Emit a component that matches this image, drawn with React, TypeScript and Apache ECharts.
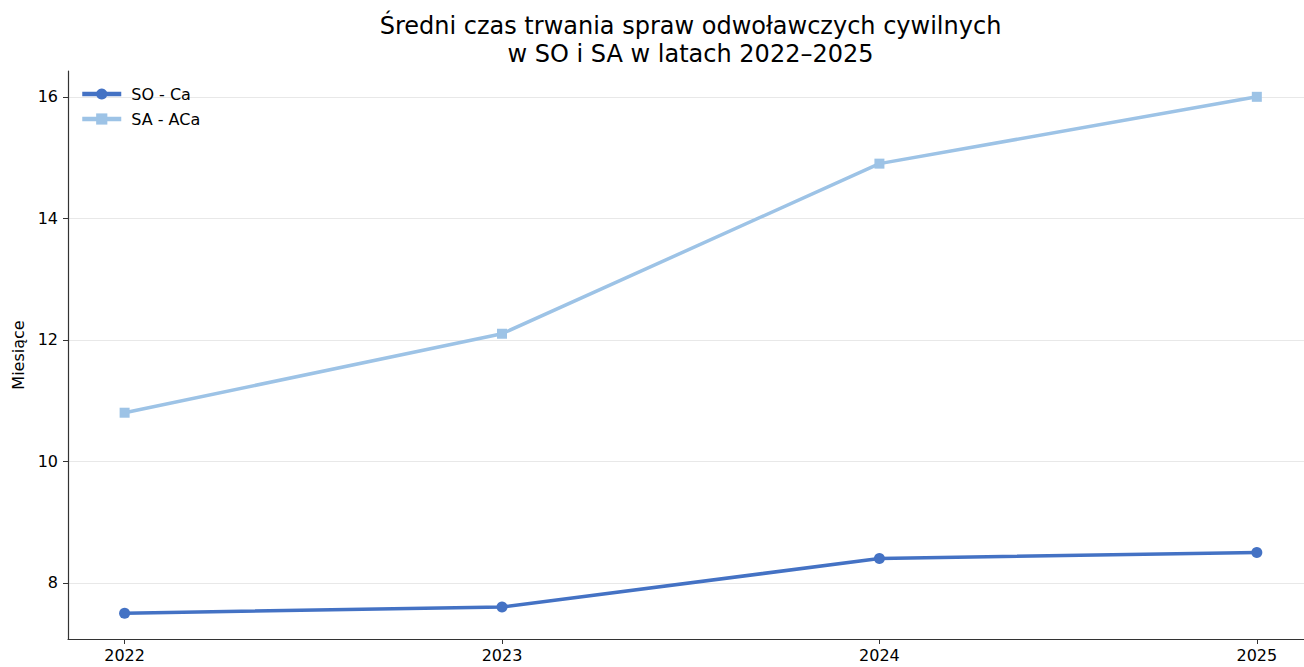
import React, { useEffect, useRef } from "react";
import * as echarts from "echarts";

const years = [2022, 2023, 2024, 2025];
const soCa = [7.5, 7.6, 8.4, 8.5];
const saACa = [10.8, 12.1, 14.9, 16.0];
const yTicks = [8, 10, 12, 14, 16];
const seriesNames = ["SO - Ca", "SA - ACa"];
const titleLines = ["Średni czas trwania spraw odwoławczych cywilnych", "w SO i SA w latach 2022–2025"];
const yAxisName = "Miesiące";

const FONT = "DejaVu Sans";
const AXIS_COLOR = "#333333";

export default function App() {
  const ref = useRef<HTMLDivElement>(null);
  useEffect(() => {
    if (!ref.current) return;
    const chart = echarts.init(ref.current, null, { renderer: "svg" });
    chart.setOption({
      animation: false,
      backgroundColor: "#ffffff",
      textStyle: { fontFamily: FONT },
      graphic: [
        {
          type: "text",
          x: 690.5,
          y: 26,
          style: { text: titleLines[0], font: `24px '${FONT}'`, fill: "#000", textAlign: "center", textVerticalAlign: "middle" },
        },
        {
          type: "text",
          x: 690.5,
          y: 54,
          style: { text: titleLines[1], font: `24px '${FONT}'`, fill: "#000", textAlign: "center", textVerticalAlign: "middle" },
        },
      ],
      legend: {
        orient: "vertical",
        left: 75,
        top: 81,
        padding: 5,
        itemWidth: 39,
        itemHeight: 14,
        itemGap: 9,
        lineStyle: { width: 4.5 },
        textStyle: { fontFamily: FONT, fontSize: 16, color: "#000", padding: [0, 0, 0, 5] },
        data: seriesNames,
      },
      grid: { left: 68, right: 0, top: 71, bottom: 28, containLabel: false, outerBoundsMode: "none" },
      xAxis: {
        type: "value",
        min: 2021.85,
        max: 2025.125,
        axisLine: { show: true, lineStyle: { color: AXIS_COLOR, width: 1.2 } },
        axisTick: { show: true, length: 5, lineStyle: { color: AXIS_COLOR }, customValues: years },
        axisLabel: {
          customValues: years,
          formatter: (v: number) => String(v),
          fontFamily: FONT,
          fontSize: 16,
          color: "#000",
          margin: 8,
        },
        splitLine: { show: false },
      },
      yAxis: {
        type: "value",
        min: 7.075,
        max: 16.425,
        name: yAxisName,
        nameLocation: "middle",
        nameGap: 42,
        nameTextStyle: { fontFamily: FONT, fontSize: 16, color: "#000" },
        axisLine: { show: true, lineStyle: { color: AXIS_COLOR, width: 1.2 } },
        axisTick: { show: true, length: 5, lineStyle: { color: AXIS_COLOR }, customValues: yTicks },
        axisLabel: {
          customValues: yTicks,
          formatter: (v: number) => String(v),
          fontFamily: FONT,
          fontSize: 16,
          color: "#000",
          margin: 10,
        },
        splitLine: { show: true, lineStyle: { color: "#e8e8e8", width: 1 } },
      },
      series: [
        {
          name: seriesNames[0],
          type: "line",
          data: years.map((y, i) => [y, soCa[i]]),
          color: "#4472C4",
          lineStyle: { width: 3.5, color: "#4472C4" },
          itemStyle: { color: "#4472C4" },
          symbol: "circle",
          symbolSize: 11,
          showSymbol: true,
        },
        {
          name: seriesNames[1],
          type: "line",
          data: years.map((y, i) => [y, saACa[i]]),
          color: "#9DC3E6",
          lineStyle: { width: 3.5, color: "#9DC3E6" },
          itemStyle: { color: "#9DC3E6" },
          symbol: "rect",
          symbolSize: 10,
          showSymbol: true,
        },
      ],
    });
    return () => chart.dispose();
  }, []);
  return <div ref={ref} style={{ position: "fixed", left: 0, top: 0, width: 1304, height: 667 }} />;
}
